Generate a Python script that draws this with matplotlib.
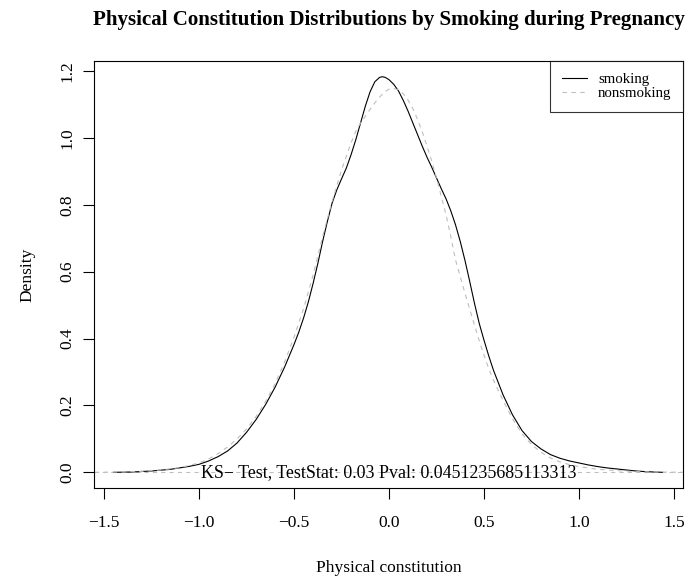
import matplotlib
matplotlib.use("Agg")
import matplotlib.pyplot as plt

# ---- data ----
smoking_x = [-1.45, -1.35, -1.25, -1.15, -1.05, -1.00, -0.95, -0.90, -0.85, -0.80,
             -0.75, -0.70, -0.65, -0.60, -0.55, -0.50, -0.475, -0.45, -0.425, -0.40,
             -0.375, -0.35, -0.325, -0.30, -0.275, -0.25, -0.225, -0.20, -0.175, -0.15,
             -0.125, -0.10, -0.075, -0.05, -0.035, -0.02, 0.00, 0.025, 0.05, 0.075,
             0.10, 0.125, 0.15, 0.175, 0.20, 0.225, 0.25, 0.275, 0.30, 0.325,
             0.35, 0.375, 0.40, 0.425, 0.45, 0.475, 0.50, 0.525, 0.55, 0.60,
             0.65, 0.70, 0.75, 0.80, 0.85, 0.90, 0.95, 1.00, 1.05, 1.10,
             1.15, 1.20, 1.25, 1.30, 1.35, 1.44]
smoking_y = [0.000, 0.001, 0.004, 0.009, 0.018, 0.024, 0.034, 0.047, 0.064, 0.088,
             0.120, 0.158, 0.203, 0.255, 0.315, 0.383, 0.420, 0.462, 0.510, 0.565,
             0.625, 0.690, 0.750, 0.805, 0.845, 0.878, 0.910, 0.950, 0.995, 1.045,
             1.095, 1.138, 1.168, 1.181, 1.183, 1.181, 1.174, 1.160, 1.140, 1.112,
             1.080, 1.045, 1.010, 0.975, 0.942, 0.912, 0.880, 0.848, 0.818, 0.782,
             0.740, 0.690, 0.633, 0.570, 0.505, 0.445, 0.395, 0.348, 0.305, 0.232,
             0.172, 0.125, 0.092, 0.070, 0.053, 0.042, 0.034, 0.028, 0.022, 0.017,
             0.013, 0.010, 0.007, 0.004, 0.002, 0.000]

nonsmoking_x = [-1.55, -1.40, -1.30, -1.20, -1.10, -1.00, -0.95, -0.90, -0.85, -0.80,
                -0.75, -0.70, -0.65, -0.60, -0.55, -0.50, -0.45, -0.40, -0.35, -0.30,
                -0.25, -0.20, -0.175, -0.15, -0.125, -0.10, -0.075, -0.05, -0.025, 0.00,
                0.025, 0.05, 0.075, 0.10, 0.125, 0.15, 0.175, 0.20, 0.225, 0.25,
                0.275, 0.30, 0.325, 0.35, 0.375, 0.40, 0.425, 0.45, 0.475, 0.50,
                0.525, 0.55, 0.60, 0.65, 0.70, 0.75, 0.80, 0.85, 0.90, 0.95,
                1.00, 1.10, 1.20, 1.30, 1.40, 1.55]
nonsmoking_y = [0.000, 0.001, 0.003, 0.007, 0.014, 0.028, 0.040, 0.056, 0.076, 0.100,
                0.130, 0.167, 0.212, 0.265, 0.330, 0.405, 0.490, 0.590, 0.705, 0.810,
                0.905, 0.985, 1.020, 1.045, 1.065, 1.085, 1.105, 1.122, 1.137, 1.146,
                1.148, 1.143, 1.132, 1.113, 1.088, 1.055, 1.018, 0.975, 0.930, 0.880,
                0.825, 0.770, 0.705, 0.635, 0.585, 0.535, 0.487, 0.440, 0.393, 0.350,
                0.310, 0.275, 0.215, 0.160, 0.115, 0.083, 0.060, 0.043, 0.031, 0.023,
                0.017, 0.009, 0.005, 0.002, 0.001, 0.000]

x_ticks = [-1.5, -1.0, -0.5, 0.0, 0.5, 1.0, 1.5]
y_ticks = [0.0, 0.2, 0.4, 0.6, 0.8, 1.0, 1.2]
series_labels = ["smoking", "nonsmoking"]
title = "Physical Constitution Distributions by Smoking during Pregnancy"
ks_text = "KS\u2212 Test, TestStat: 0.03 Pval: 0.0451235685113313"

plt.rcParams['font.family'] = ['Liberation Serif', 'DejaVu Serif']
plt.rcParams['axes.unicode_minus'] = True

fig = plt.figure(figsize=(6.89, 5.78), dpi=100)
ax = fig.add_axes([94/689, 1-488.3/578, (683-94)/689, (488.3-61)/578])

ax.axhline(0, color="#BEBEBE", lw=0.75, ls=(0, (4, 4)))
ax.plot(smoking_x, smoking_y, color="black", lw=0.8, label=series_labels[0])
ax.plot(nonsmoking_x, nonsmoking_y, color="#BEBEBE", lw=0.8, ls=(0, (4, 4)),
        label=series_labels[1])

ax.set_xlim(-1.554, 1.548)
ax.set_ylim(-0.0478, 1.230)
ax.set_xticks(x_ticks)
ax.set_yticks(y_ticks)
ax.set_xticklabels([f"{v:.1f}".replace("-", "\u2212") for v in x_ticks])
ax.set_yticklabels([f"{v:.1f}" for v in y_ticks], rotation=90, va="center")
ax.tick_params(axis="both", direction="out", length=7.7, width=0.8, labelsize=12.5)
ax.tick_params(axis="x", pad=11.5)
ax.tick_params(axis="y", pad=6)
for s in ax.spines.values():
    s.set_linewidth(0.8)

ax.text(0, 0, ks_text, ha="center", va="center", fontsize=12.9)

ax.set_xlabel("Physical constitution", fontsize=12.5, labelpad=21)
ax.set_ylabel("Density", fontsize=12.5, labelpad=17)
ax.set_title(title, fontsize=15.1, fontweight="bold", pad=26)

leg = ax.legend(loc="upper right", fontsize=10.7, frameon=True, fancybox=False,
                borderaxespad=0, handlelength=1.7, borderpad=0.78,
                labelspacing=0.05, handletextpad=0.75)
leg.get_frame().set_edgecolor("black")
leg.get_frame().set_linewidth(0.8)

fig.savefig("out.png", dpi=100)
